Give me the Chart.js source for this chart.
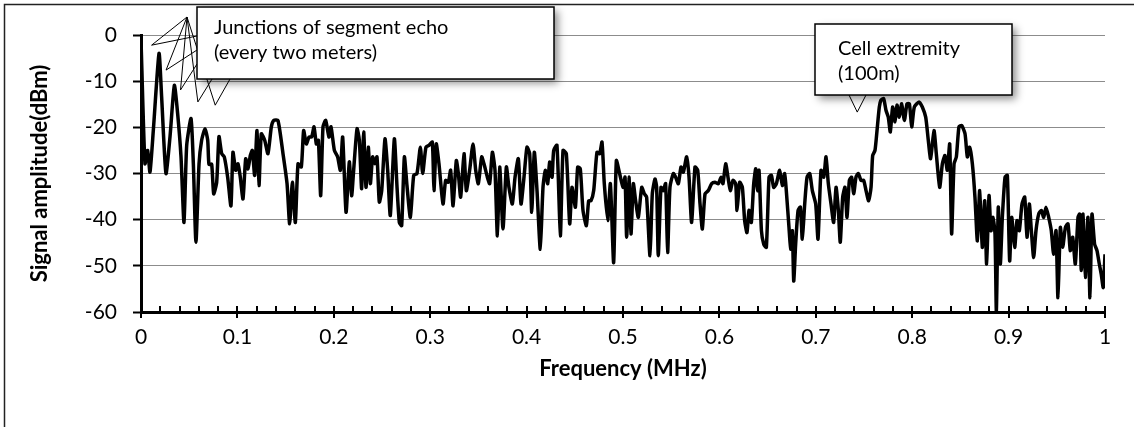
<!DOCTYPE html>
<html>
<head>
<meta charset="utf-8">
<script src="https://cdn.jsdelivr.net/npm/chart.js@4.4.0/dist/chart.umd.min.js"></script>
<style>
  html, body { margin: 0; padding: 0; background: #fff; }
  #wrap { width: 1134px; height: 427px; }
</style>
</head>
<body>
<div id="wrap"><canvas id="spectrumChart" width="1134" height="427"></canvas></div>
<script>
const freqMHz = [
  0, 0.0041, 0.0069, 0.0093, 0.0128, 0.0187, 0.0214, 0.0259, 0.0301, 0.0346, 0.038, 0.0415, 0.0446, 0.0474, 0.0519, 0.0543, 0.057, 0.0602, 0.0629, 0.0664,
  0.0692, 0.0705, 0.0733, 0.0754, 0.0785, 0.0809, 0.0837, 0.0864, 0.0899, 0.0933,
  0.0954, 0.0982, 0.1006, 0.1030, 0.1058, 0.1086, 0.1110, 0.1134, 0.1155, 0.1179, 0.1203, 0.1224, 0.1248, 0.1283, 0.1317, 0.1352, 0.1376, 0.1421, 0.1473, 0.1515,
  0.1542, 0.1570, 0.1601, 0.1629, 0.1663, 0.1687, 0.1715, 0.1743, 0.1770, 0.1795, 0.1819, 0.1840, 0.1864, 0.1888, 0.1916, 0.1950,
  0.1971, 0.2006, 0.2040, 0.2068, 0.2092, 0.2127, 0.2161, 0.2185, 0.2206, 0.2241, 0.2265, 0.2289, 0.2310, 0.2334, 0.2358, 0.2379, 0.2403, 0.2427, 0.2448, 0.2472,
  0.2497, 0.2531, 0.2559, 0.2586, 0.2628, 0.2656, 0.2680, 0.2704, 0.2732, 0.2759, 0.2794, 0.2829, 0.2863, 0.2898, 0.2922, 0.2956,
  0.2988, 0.3022, 0.3039, 0.3063, 0.3091, 0.3133, 0.3160, 0.3188, 0.3212, 0.3237, 0.3271, 0.3292, 0.3316, 0.3351, 0.3375, 0.3409, 0.3444, 0.3472, 0.3499, 0.3534,
  0.3558, 0.3593, 0.3617, 0.3645, 0.3672, 0.3697, 0.3721, 0.3755, 0.3790, 0.3817, 0.3852, 0.3880, 0.3914, 0.3942, 0.3973,
  0.4004, 0.4032, 0.4053, 0.4080, 0.4108, 0.4142, 0.4170, 0.4194, 0.4219, 0.4239, 0.4264, 0.4281, 0.4315, 0.4350, 0.4378, 0.4412, 0.4447, 0.4471, 0.4506, 0.4530,
  0.4557, 0.4585, 0.4620, 0.4644, 0.4668, 0.4696, 0.4730, 0.4758, 0.4782, 0.4806, 0.4841, 0.4869, 0.4903, 0.4931, 0.4965, 0.5000,
  0.5021, 0.5038, 0.5062, 0.5083, 0.5107, 0.5131, 0.5159, 0.5194, 0.5221, 0.5245, 0.5280, 0.5304, 0.5332, 0.5349, 0.5366, 0.5394, 0.5418, 0.5442, 0.5463, 0.5487,
  0.5522, 0.5546, 0.5574, 0.5602, 0.5626, 0.5660, 0.5685, 0.5712, 0.5747, 0.5775, 0.5799, 0.5823, 0.5851, 0.5885, 0.5920, 0.5954, 0.5989, 0.6017,
  0.6037, 0.6065, 0.6089, 0.6113, 0.6141, 0.6169, 0.6183, 0.6210, 0.6238, 0.6262, 0.6286, 0.6307, 0.6331, 0.6356, 0.6377, 0.6394, 0.6411, 0.6436, 0.6460, 0.6487,
  0.6515, 0.6539, 0.6563, 0.6591, 0.6625, 0.6653, 0.6677, 0.6694, 0.6722, 0.6739, 0.6757, 0.6771, 0.6791, 0.6816, 0.6840, 0.6860, 0.6885, 0.6909, 0.6937, 0.6964,
  0.6999, 0.7023,
  0.7054, 0.7082, 0.7106, 0.7130, 0.7158, 0.7185, 0.7210, 0.7234, 0.7254, 0.7279, 0.7303, 0.7324, 0.7348, 0.7372, 0.7393, 0.7417, 0.7441, 0.7469, 0.7497, 0.7521,
  0.7548, 0.7573, 0.7590, 0.7614, 0.7635, 0.7659, 0.7676, 0.7704, 0.7728, 0.7752, 0.7773, 0.7797, 0.7822, 0.7842, 0.7867, 0.7891, 0.7919, 0.7946, 0.7971, 0.7995,
  0.8022,
  0.8071, 0.8105, 0.8140, 0.8167, 0.8191, 0.8226, 0.8250, 0.8285, 0.8313, 0.8340, 0.8364, 0.8389, 0.8409, 0.8434, 0.8458, 0.8485, 0.8513, 0.8548, 0.8572, 0.8596,
  0.8624, 0.8651, 0.8676, 0.8700, 0.8727, 0.8752, 0.8772, 0.8797, 0.8817, 0.8838, 0.8859, 0.8873, 0.8893, 0.8914, 0.8935, 0.8963, 0.8987, 0.9011, 0.9032,
  0.9063, 0.9087, 0.9111, 0.9139, 0.9167, 0.9191, 0.9215, 0.9236, 0.9260, 0.9284, 0.9312, 0.9340, 0.9364, 0.9388, 0.9416, 0.9443, 0.9467, 0.9492, 0.9512, 0.9537,
  0.9561, 0.9589, 0.9616, 0.9640, 0.9665, 0.9692, 0.9720, 0.9737, 0.9754, 0.9772, 0.9796, 0.9823, 0.9844, 0.9865, 0.9892, 0.9917, 0.9941, 0.9961, 0.9982, 1.0
];

const amplitudeDbm = [
  -1, -27.9, -25, -29.7, -20.6, -4, -13.4, -30, -22, -10.9, -17, -26.4, -40.6, -23.9, -18.1, -27.9, -44.9, -27.9, -22.8, -20.3,
  -22.8, -28, -28, -34.4, -31.9, -22, -25.7, -26.4, -30.8, -37,
  -25.4, -29.3, -27.9, -30.8, -35.5, -26.8, -29, -26.1, -25, -30.4, -20.7, -32.6, -21.4, -22.8, -25.7, -19.9, -18.5, -18.5, -25.7, -32.2,
  -40.9, -31.9, -40.6, -27.9, -28.6, -20.7, -23.6, -22.1, -22.1, -19.9, -23.6, -22.8, -34.8, -19.9, -18.5, -22.1,
  -19.9, -25, -26.4, -29.3, -22.1, -38.4, -27.5, -34.8, -29.3, -20.3, -22.8, -33.3, -21, -33, -24.3, -32.2, -26.4, -27.9, -26.4, -36.2,
  -33.7, -22.5, -29.3, -39.1, -22.5, -33, -40.6, -41.3, -26.4, -32.6, -39.5, -30.4, -30, -24.3, -30, -24.3,
  -23.9, -23.2, -33.7, -23.6, -27.9, -36.6, -31.5, -31.9, -29.3, -37, -27.2, -30, -35.1, -25.7, -33.7, -29.3, -23.6, -29.3, -32.2, -26.4,
  -27.9, -30.8, -32.2, -25.4, -29.3, -43.5, -28.6, -42, -28.6, -33, -36.6, -30.8, -26.8, -36.6, -30.8,
  -24.3, -25.7, -38.4, -25.4, -33.7, -46.4, -33, -29.3, -32.2, -27.5, -30.8, -25, -23.9, -43.5, -25, -25.7, -40.9, -33, -37.3, -28.6,
  -29, -38, -41.3, -35.9, -35.9, -33.7, -25.4, -25.7, -23.2, -32.2, -40.2, -32.2, -49.3, -27.2, -30, -33,
  -30.8, -43.8, -30.8, -43.1, -32.2, -35.9, -39.5, -33, -34.4, -35.1, -47.8, -34.4, -31.2, -33, -47.8, -33, -33.7, -32.2, -47.1, -33,
  -30, -30.8, -32.2, -28.6, -29.7, -26.4, -30.8, -40.6, -28.6, -29.3, -36.6, -42, -34.4, -33.7, -32.2, -31.9, -32.2, -30.8,
  -32.2, -27.9, -30.8, -33.7, -31.5, -32.2, -38, -31.9, -33, -40.2, -42.8, -38, -40.6, -32.2, -29, -33.7, -29.3, -42.4, -45.3, -46,
  -30.8, -30.4, -33, -32.2, -29.3, -32.6, -30, -33.7, -41.7, -46.4, -42.4, -53.3, -45.3, -38, -37.3, -44.2, -36.6, -30.8, -30, -33.7,
  -36.6, -44.2,
  -29.3, -30.8, -26.4, -32.2, -36.6, -40.6, -33, -38, -44.9, -35.1, -33, -39.5, -31.5, -30.8, -34.4, -30.8, -30, -31.5, -31.5, -33.7,
  -35.9, -33, -26.1, -25, -20.7, -15.6, -14.1, -13.8, -16.3, -17.8, -21, -15.6, -18.8, -15.2, -17.8, -14.9, -18.5, -14.9, -14.9, -19.9,
  -15.6,
  -14.5, -15.6, -17.8, -22.8, -26.8, -20.7, -25.7, -33, -27.9, -26.1, -29.3, -23.6, -43.1, -27.9, -26.4, -19.9, -19.6, -21.4, -26.4, -24.3,
  -27.9, -35.1, -44.6, -33.7, -46, -35.9, -49.6, -34.8, -42.4, -39.5, -43.1, -59.8, -37.3, -49.6, -39.5, -30.8, -30.4, -48.9, -39.5,
  -46, -40.2, -42.4, -36.6, -35.1, -43.8, -36.6, -42.4, -48.2, -42.4, -38.8, -38, -39.5, -37.3, -39.5, -42.4, -47.5, -42.4, -56.9, -41.7,
  -46, -41.7, -40.9, -46.7, -43.8, -49.6, -39.5, -38.8, -51, -38.8, -52.5, -39.5, -56.9, -38.8, -45.3, -46.7, -49.6, -51.8, -54.7, -47.5
];

const xAxisTitle = "Frequency (MHz)";
const yAxisTitle = "Signal amplitude(dBm)";
const echoLabel = ["Junctions of segment echo", "(every two meters)"];
const cellLabel = ["Cell extremity", "(100m)"];
// callout tips, in chart units (MHz, dBm)
const echoTips = [[0.011, -2.2], [0.026, -7.6], [0.041, -11.9], [0.059, -14.5], [0.077, -15.2]];
const cellTip = [0.743, -16.7];

const FONT = "Lato, 'Open Sans', sans-serif";

function drawBox(ctx, x, y, w, h) {
  ctx.save();
  ctx.shadowColor = "rgba(0,0,0,0.45)";
  ctx.shadowBlur = 8;
  ctx.shadowOffsetX = 4;
  ctx.shadowOffsetY = 4;
  ctx.fillStyle = "#fff";
  ctx.fillRect(x, y, w, h);
  ctx.restore();
  ctx.strokeStyle = "#000";
  ctx.lineWidth = 1.5;
  ctx.strokeRect(x, y, w, h);
}

function drawWedge(ctx, a, b, tip) {
  ctx.beginPath();
  ctx.moveTo(a[0], a[1]);
  ctx.lineTo(tip[0], tip[1]);
  ctx.lineTo(b[0], b[1]);
  ctx.stroke();
}

const calloutPlugin = {
  id: "callouts",
  beforeDraw(chart) {
    const ctx = chart.ctx;
    ctx.save();
    ctx.fillStyle = "#fff";
    ctx.fillRect(0, 0, chart.width, chart.height);
    ctx.strokeStyle = "#222";
    ctx.lineWidth = 1.5;
    ctx.strokeRect(4.5, 4.5, chart.width + 20, chart.height + 20);
    ctx.restore();
  },
  afterDraw(chart) {
    const { ctx, scales: { x, y } } = chart;
    ctx.save();

    // tick marks on the frequency axis: minor inside, major crossing
    ctx.strokeStyle = "#000";
    ctx.lineWidth = 2;
    for (let i = 0; i <= 50; i++) {
      const px = Math.round(x.getPixelForValue(i * 0.02));
      ctx.beginPath();
      ctx.moveTo(px, y.bottom - 6);
      ctx.lineTo(px, y.bottom + (i % 5 === 0 ? 6 : 0));
      ctx.stroke();
    }

    // callout wedges (their bases sit under the box)
    ctx.lineWidth = 1;
    ctx.strokeStyle = "#000";
    const echoBases = [[197, 36], [197, 50], [197, 64], [212, 79], [230, 79]];
    echoTips.forEach((t, i) => {
      drawWedge(ctx, [187, 17], echoBases[i], [x.getPixelForValue(t[0]), y.getPixelForValue(t[1])]);
    });
    drawWedge(ctx, [849, 95], [866, 95], [x.getPixelForValue(cellTip[0]), y.getPixelForValue(cellTip[1])]);

    // boxes
    drawBox(ctx, 197, 7, 357, 72);
    drawBox(ctx, 815, 24, 197, 71);

    ctx.fillStyle = "#000";
    ctx.font = "20px " + FONT;
    ctx.textBaseline = "middle";
    ctx.textAlign = "left";
    ctx.fillText(echoLabel[0], 214, 28);
    ctx.fillText(echoLabel[1], 214, 53);
    ctx.fillText(cellLabel[0], 838, 49);
    ctx.fillText(cellLabel[1], 838, 74);
    ctx.restore();
  }
};

const ctx = document.getElementById("spectrumChart").getContext("2d");
new Chart(ctx, {
  type: "line",
  data: {
    datasets: [{
      data: freqMHz.map((f, i) => ({ x: f, y: amplitudeDbm[i] })),
      borderColor: "#000",
      borderWidth: 3.5,
      pointRadius: 0,
      tension: 0.2,
      fill: false,
      borderJoinStyle: "round"
    }]
  },
  options: {
    responsive: false,
    animation: false,
    events: [],
    layout: { padding: { top: 35, right: 29, left: 0, bottom: 0 } },
    plugins: { legend: { display: false }, tooltip: { enabled: false } },
    scales: {
      x: {
        type: "linear",
        min: 0,
        max: 1,
        afterFit(scale) { scale.height = 115; },
        ticks: {
          stepSize: 0.1,
          color: "#000",
          font: { family: FONT, size: 21 },
          padding: 13,
          maxRotation: 0,
          autoSkip: false,
          callback: v => String(Math.round(v * 10) / 10)
        },
        grid: { drawOnChartArea: false, drawTicks: false },
        border: { display: true, color: "#000", width: 3 },
        title: {
          display: true,
          text: xAxisTitle,
          color: "#000",
          font: { family: FONT, size: 22, weight: "bold" },
          padding: { top: 0, bottom: 45 }
        }
      },
      y: {
        min: -60,
        max: 0,
        afterFit(scale) { scale.width = 141; },
        ticks: {
          stepSize: 10,
          color: "#000",
          font: { family: FONT, size: 21 },
          padding: 16
        },
        grid: { color: "#8c8c8c", lineWidth: 1, tickLength: 8, tickColor: "#000", tickWidth: 2 },
        border: { display: true, color: "#000", width: 3 },
        title: {
          display: true,
          text: yAxisTitle,
          color: "#000",
          font: { family: FONT, size: 22, weight: "bold" },
          padding: { top: 27, bottom: 0 }
        }
      }
    }
  },
  plugins: [calloutPlugin]
});
</script>
</body>
</html>
